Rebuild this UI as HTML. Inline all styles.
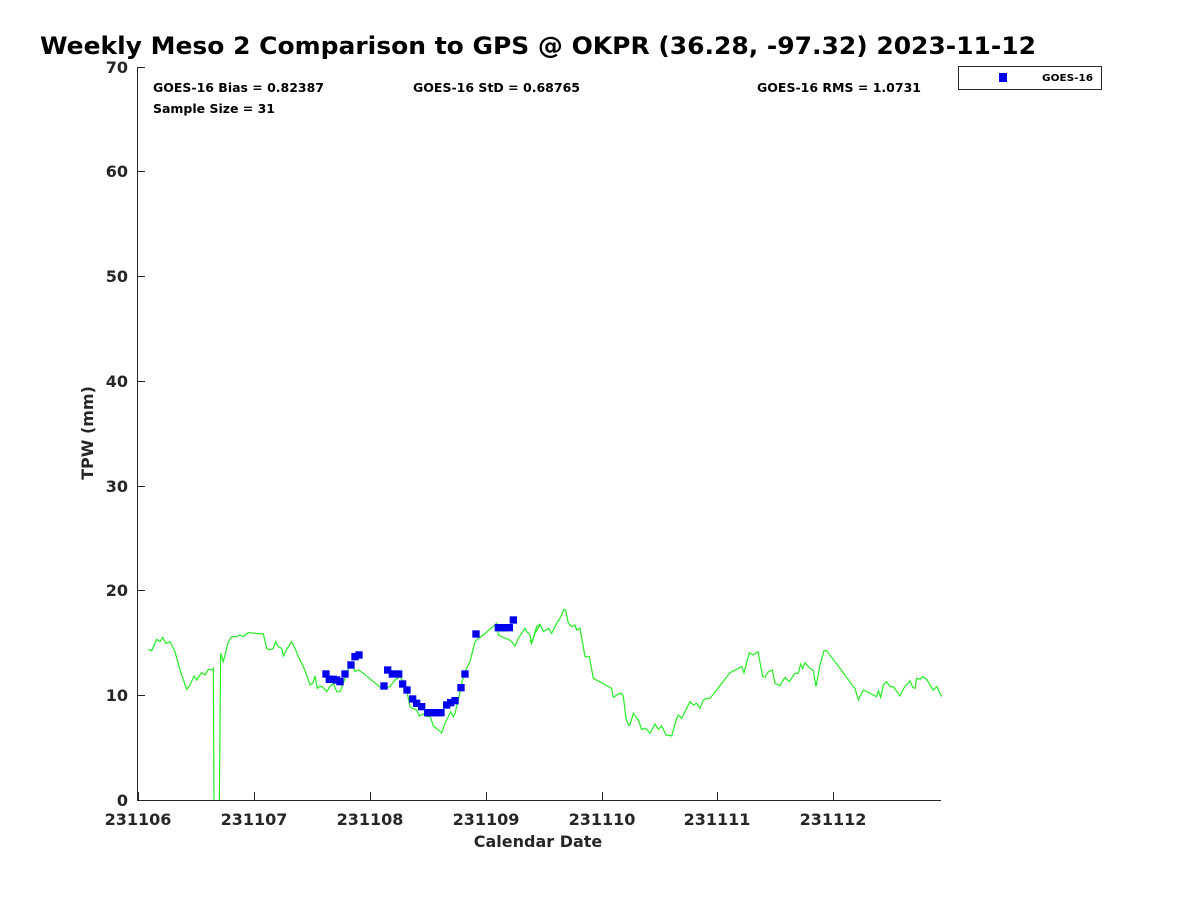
<!DOCTYPE html>
<html><head><meta charset="utf-8"><style>
body{margin:0;background:#fff}
svg text{font-family:"DejaVu Sans","Liberation Sans",sans-serif;font-weight:bold;fill:#262626}
</style></head><body>
<svg width="1200" height="900" viewBox="0 0 1200 900" xmlns="http://www.w3.org/2000/svg">
<defs><clipPath id="c"><rect x="137" y="60" width="805" height="740"/></clipPath></defs>
<rect width="1200" height="900" fill="#fff"/>
<text x="40" y="54" font-size="24" style="fill:#000" textLength="996" lengthAdjust="spacingAndGlyphs">Weekly Meso 2 Comparison to GPS @ OKPR (36.28, -97.32) 2023-11-12</text>
<path d="M137.5,67 V800.5 H941" fill="none" stroke="#262626" stroke-width="1"/>
<g stroke="#262626" stroke-width="1">
<line x1="137" y1="67.5" x2="145" y2="67.5"/>
<line x1="137" y1="171.5" x2="145" y2="171.5"/>
<line x1="137" y1="276.5" x2="145" y2="276.5"/>
<line x1="137" y1="381.5" x2="145" y2="381.5"/>
<line x1="137" y1="486.5" x2="145" y2="486.5"/>
<line x1="137" y1="590.5" x2="145" y2="590.5"/>
<line x1="137" y1="695.5" x2="145" y2="695.5"/>
<line x1="138.5" y1="800" x2="138.5" y2="792"/>
<line x1="254.5" y1="800" x2="254.5" y2="792"/>
<line x1="370.5" y1="800" x2="370.5" y2="792"/>
<line x1="486.5" y1="800" x2="486.5" y2="792"/>
<line x1="602.5" y1="800" x2="602.5" y2="792"/>
<line x1="717.5" y1="800" x2="717.5" y2="792"/>
<line x1="833.5" y1="800" x2="833.5" y2="792"/>
</g>
<g font-size="16" text-anchor="end">
<text x="128" y="73">70</text><text x="128" y="177">60</text><text x="128" y="282">50</text>
<text x="128" y="387">40</text><text x="128" y="492">30</text><text x="128" y="596">20</text>
<text x="128" y="701">10</text><text x="128" y="806">0</text>
</g>
<g font-size="16" text-anchor="middle">
<text x="138" y="825">231106</text><text x="254" y="825">231107</text><text x="370" y="825">231108</text>
<text x="486" y="825">231109</text><text x="602" y="825">231110</text><text x="717" y="825">231111</text>
<text x="833" y="825">231112</text>
</g>
<text x="538" y="847" font-size="16" text-anchor="middle">Calendar Date</text>
<text transform="translate(93,433) rotate(-90)" font-size="16" text-anchor="middle">TPW (mm)</text>
<g font-size="12">
<text x="153" y="92" style="fill:#000" textLength="171" lengthAdjust="spacingAndGlyphs">GOES-16 Bias = 0.82387</text>
<text x="413" y="92" style="fill:#000" textLength="167" lengthAdjust="spacingAndGlyphs">GOES-16 StD = 0.68765</text>
<text x="757" y="92" style="fill:#000" textLength="164" lengthAdjust="spacingAndGlyphs">GOES-16 RMS = 1.0731</text>
<text x="153" y="113" style="fill:#000" textLength="122" lengthAdjust="spacingAndGlyphs">Sample Size = 31</text>
</g>
<rect x="958.5" y="66.5" width="143" height="23" fill="#fff" stroke="#262626"/>
<rect x="999" y="73" width="8" height="9" fill="#0000ee"/>
<text x="1042" y="81" font-size="10" style="fill:#000" textLength="51" lengthAdjust="spacingAndGlyphs">GOES-16</text>
<g clip-path="url(#c)">
<g transform="translate(130,590) scale(0.33333)">
<polyline fill="none" stroke="#22ee22" stroke-width="1.2" vector-effect="non-scaling-stroke" points="55,178 65,182 80,148 90,155 98,142 108,160 120,155 135,185 150,240 170,298 180,285 192,258 200,270 215,248 225,255 235,238 245,240 250,235 252,640 258,640 268,640 272,190 280,215 295,155 305,140 320,140 330,135 340,140 355,128 375,130 400,132 410,175 420,180 430,175 437,155 445,170 455,175 460,198 470,178 485,155 495,175 505,200 520,230 530,255 540,285 548,280 555,258 562,295 570,288 580,293 590,305 600,290 610,280 620,305 630,305 640,280 650,250 658,230 665,222 675,245 685,240 700,250 755,295 765,295 780,290 795,270 810,260 820,275 830,300 840,350 848,355 860,360 868,378 880,372 890,380 900,378 910,408 935,428 945,400 955,380 962,365 970,380 975,370 985,330 995,280 1005,245 1020,215 1035,155 1045,145 1060,135 1100,100 1105,135 1125,145 1135,148 1145,155 1155,168 1165,145 1175,130 1185,115 1190,125 1200,135 1205,160 1215,130 1230,105"/>
</g>
<g transform="translate(530,590) scale(0.33333)">
<polyline fill="none" stroke="#22ee22" stroke-width="1.2" vector-effect="non-scaling-stroke" points="0,150 5,160 20,110 30,103 40,125 55,115 65,130 80,100 90,85 102,58 107,60 115,100 125,110 135,105 140,120 150,115 165,200 178,200 190,265 245,295 250,322 265,312 275,310 280,320 288,385 295,405 300,405 310,370 320,385 325,390 335,418 345,415 352,420 360,430 375,402 385,418 395,408 408,435 425,438 440,385 445,375 455,385 460,375 470,355 480,335 490,345 500,340 510,355 520,330 530,325 540,325 560,300 600,248 635,230 642,248 658,188 670,195 684,185 698,260 705,262 715,245 727,240 735,280 750,287 765,262 778,275 795,250 805,250 812,222 818,235 825,218 835,230 850,242 858,290 870,225 882,182 890,182 930,235 970,290 975,295 985,330 1000,300 1030,315 1040,320 1045,302 1052,322 1060,285 1070,275 1080,290 1090,290 1110,318 1125,288 1130,285 1140,272 1148,292 1155,295 1160,265 1170,268 1178,260 1190,268 1200,285 1210,300 1220,290 1235,320"/>
</g>
</g>
<g transform="translate(130,590) scale(0.33333)" fill="#0000ee">
<g transform="translate(-11,-11)">
<rect x="588" y="252" width="22" height="22"/><rect x="598" y="268" width="22" height="22"/>
<rect x="610" y="268" width="22" height="22"/><rect x="620" y="270" width="22" height="22"/>
<rect x="630" y="275" width="22" height="22"/><rect x="645" y="252" width="22" height="22"/>
<rect x="663" y="225" width="22" height="22"/><rect x="675" y="200" width="22" height="22"/>
<rect x="687" y="195" width="22" height="22"/><rect x="762" y="288" width="22" height="22"/>
<rect x="773" y="240" width="22" height="22"/><rect x="787" y="252" width="22" height="22"/>
<rect x="806" y="252" width="22" height="22"/><rect x="818" y="282" width="22" height="22"/>
<rect x="831" y="300" width="22" height="22"/><rect x="848" y="327" width="22" height="22"/>
<rect x="860" y="340" width="22" height="22"/><rect x="875" y="350" width="22" height="22"/>
<rect x="893" y="368" width="22" height="22"/><rect x="905" y="368" width="22" height="22"/>
<rect x="915" y="368" width="22" height="22"/><rect x="925" y="368" width="22" height="22"/>
<rect x="933" y="368" width="22" height="22"/><rect x="950" y="345" width="22" height="22"/>
<rect x="962" y="338" width="22" height="22"/><rect x="975" y="332" width="22" height="22"/>
<rect x="993" y="293" width="22" height="22"/><rect x="1005" y="252" width="22" height="22"/>
<rect x="1038" y="132" width="22" height="22"/><rect x="1105" y="113" width="22" height="22"/>
<rect x="1115" y="113" width="22" height="22"/><rect x="1125" y="113" width="22" height="22"/>
<rect x="1138" y="113" width="22" height="22"/><rect x="1150" y="90" width="22" height="22"/>
</g>
</g>
</svg>
</body></html>
